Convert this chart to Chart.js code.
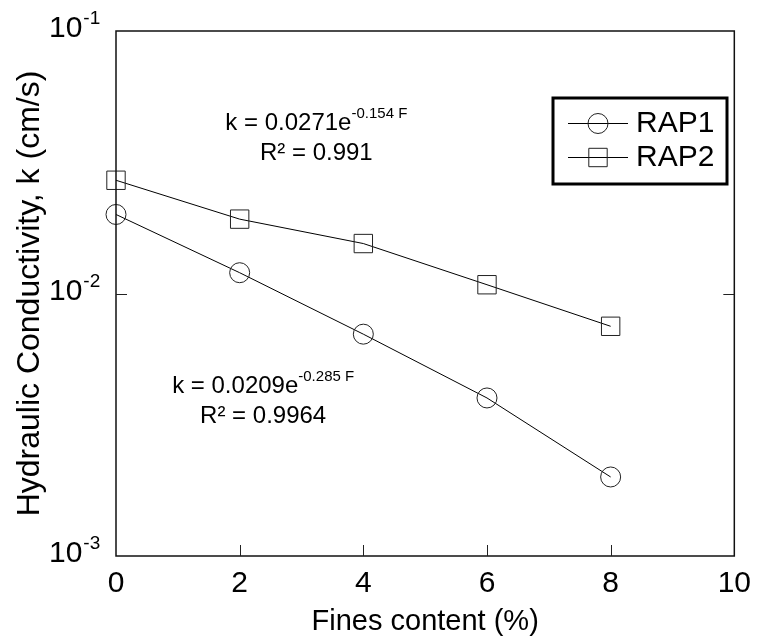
<!DOCTYPE html>
<html>
<head>
<meta charset="utf-8">
<script src="https://cdn.jsdelivr.net/npm/chart.js@4.4.1/dist/chart.umd.min.js"></script>
<style>
  html, body { margin: 0; padding: 0; background: #fff; }
  #wrap { width: 761px; height: 643px; position: relative; }
</style>
</head>
<body>
<div id="wrap"><canvas id="chart"></canvas></div>
<script>
// Hydraulic conductivity vs. fines content for two RAP gradations
const finesContent = [0, 2, 4, 6, 8];
const rap1K = [0.0200, 0.0120, 0.0070, 0.0040, 0.0020];
const rap2K = [0.0270, 0.0192, 0.0155, 0.0108, 0.0075];
const seriesNames = ['RAP1', 'RAP2'];
const yDecades = [0.001, 0.01, 0.1];
const yExponents = ['-3', '-2', '-1'];
const xTickValues = [0, 2, 4, 6, 8, 10];
const fitMain = ['k = 0.0209e', 'k = 0.0271e'];
const fitExp = ['-0.285 F', '-0.154 F'];
const fitR2 = ['R\u00B2 = 0.9964', 'R\u00B2 = 0.991'];

const FONT = '"Liberation Sans", Arial, Helvetica, sans-serif';
const INK = '#000';

// Equation labels: anchor in data units (centre x, baseline of first line)
const fitAnchors = [
  { x: 2.38, y: 0.00418 },
  { x: 3.24, y: 0.0420 }
];

const decorations = {
  id: 'decorations',
  afterDraw(chart) {
    const c = chart.ctx;
    const a = chart.chartArea;
    const xs = chart.scales.x;
    const ys = chart.scales.y;
    c.save();

    // plot frame
    c.strokeStyle = '#111';
    c.lineWidth = 1.5;
    c.strokeRect(a.left, a.top, a.right - a.left, a.bottom - a.top);

    // inward tick marks
    c.lineWidth = 1;
    c.strokeStyle = '#222';
    const tl = 11;
    xTickValues.forEach(v => {
      if (v === xs.min || v === xs.max) return;
      const px = Math.round(xs.getPixelForValue(v)) + 0.5;
      c.beginPath(); c.moveTo(px, a.bottom); c.lineTo(px, a.bottom - tl); c.stroke();
    });
    yDecades.forEach(v => {
      if (v === ys.min || v === ys.max) return;
      const py = Math.round(ys.getPixelForValue(v)) + 0.5;
      c.beginPath(); c.moveTo(a.left, py); c.lineTo(a.left + tl, py); c.stroke();
      c.beginPath(); c.moveTo(a.right, py); c.lineTo(a.right - tl, py); c.stroke();
    });

    // y tick labels as powers of ten
    c.fillStyle = INK;
    c.textBaseline = 'middle';
    yDecades.forEach((v, i) => {
      const py = ys.getPixelForValue(v);
      c.font = '30px ' + FONT;
      c.textAlign = 'left';
      const baseX = 49;
      c.fillText('10', baseX, py - 2);
      const w = c.measureText('10').width;
      c.font = '19px ' + FONT;
      c.fillText(yExponents[i], baseX + w + 1, py - 12);
    });

    // fitted-equation labels
    fitAnchors.forEach((p, i) => {
      const cx = xs.getPixelForValue(p.x);
      const by = ys.getPixelForValue(p.y);
      c.textBaseline = 'alphabetic';
      c.textAlign = 'left';
      c.font = '24px ' + FONT;
      const wMain = c.measureText(fitMain[i]).width;
      c.font = '15px ' + FONT;
      const wExp = c.measureText(fitExp[i]).width;
      const x0 = cx - (wMain + wExp) / 2;
      c.font = '24px ' + FONT;
      c.fillText(fitMain[i], x0, by);
      c.font = '15px ' + FONT;
      c.fillText(fitExp[i], x0 + wMain, by - 12);
      c.font = '24px ' + FONT;
      c.textAlign = 'center';
      c.fillText(fitR2[i], cx, by + 30);
    });

    // legend
    const box = { l: 553, t: 98, r: 727, b: 184 };
    c.lineWidth = 3;
    c.strokeStyle = '#000';
    c.strokeRect(box.l, box.t, box.r - box.l, box.b - box.t);
    const rowY = [123, 157];
    chart.data.datasets.forEach((ds, i) => {
      const y = rowY[i];
      c.lineWidth = 1;
      c.strokeStyle = INK;
      c.beginPath(); c.moveTo(568, y + 0.5); c.lineTo(628, y + 0.5); c.stroke();
      c.fillStyle = 'rgba(0,0,0,0)';
      c.strokeStyle = ds.pointBorderColor;
      c.lineWidth = 1;
      Chart.helpers.drawPoint(c, {
        pointStyle: ds.pointStyle, radius: ds.pointRadius, borderWidth: 1
      }, 598, y + 0.5);
      c.fillStyle = INK;
      c.font = '30px ' + FONT;
      c.textAlign = 'left';
      c.textBaseline = 'middle';
      c.fillText(ds.label, 636, y + 1);
    });
    c.restore();
  }
};

const rap1Points = finesContent.map((x, i) => ({ x, y: rap1K[i] }));
const rap2Points = finesContent.map((x, i) => ({ x, y: rap2K[i] }));

new Chart(document.getElementById('chart'), {
  type: 'line',
  data: {
    datasets: [
      {
        label: seriesNames[0],
        data: rap1Points,
        borderColor: INK,
        borderWidth: 1,
        pointStyle: 'circle',
        pointRadius: 10,
        pointBorderColor: '#222',
        pointBackgroundColor: 'rgba(0,0,0,0)',
        pointBorderWidth: 1,
        tension: 0,
        clip: false
      },
      {
        label: seriesNames[1],
        data: rap2Points,
        borderColor: INK,
        borderWidth: 1,
        pointStyle: 'rect',
        pointRadius: 13,
        pointBorderColor: '#222',
        pointBackgroundColor: 'rgba(0,0,0,0)',
        pointBorderWidth: 1,
        tension: 0,
        clip: false
      }
    ]
  },
  options: {
    responsive: true,
    maintainAspectRatio: false,
    animation: false,
    devicePixelRatio: 1,
    layout: { padding: { top: 31, right: 19, left: 0, bottom: 0 } },
    plugins: {
      legend: { display: false },
      tooltip: { enabled: false }
    },
    scales: {
      x: {
        type: 'linear',
        min: 0,
        max: 10,
        afterBuildTicks: s => { s.ticks = xTickValues.map(v => ({ value: v })); },
        afterFit: s => { s.height = 87; },
        grid: { display: false, drawTicks: false },
        border: { display: false },
        ticks: {
          color: INK,
          font: { family: FONT, size: 30 },
          padding: 10,
          maxRotation: 0
        },
        title: {
          display: true,
          text: 'Fines content (%)',
          color: INK,
          font: { family: FONT, size: 29 },
          padding: { top: 0, bottom: 4 }
        }
      },
      y: {
        type: 'logarithmic',
        min: 0.001,
        max: 0.1,
        afterBuildTicks: s => { s.ticks = yDecades.map(v => ({ value: v })); },
        afterFit: s => { s.width = 116; },
        grid: { display: false, drawTicks: false },
        border: { display: false },
        ticks: { display: false },
        title: {
          display: true,
          text: 'Hydraulic Conductivity, k (cm/s)',
          color: INK,
          font: { family: FONT, size: 32 },
          padding: { top: 11, bottom: 0 }
        }
      }
    }
  },
  plugins: [decorations]
});
</script>
</body>
</html>
